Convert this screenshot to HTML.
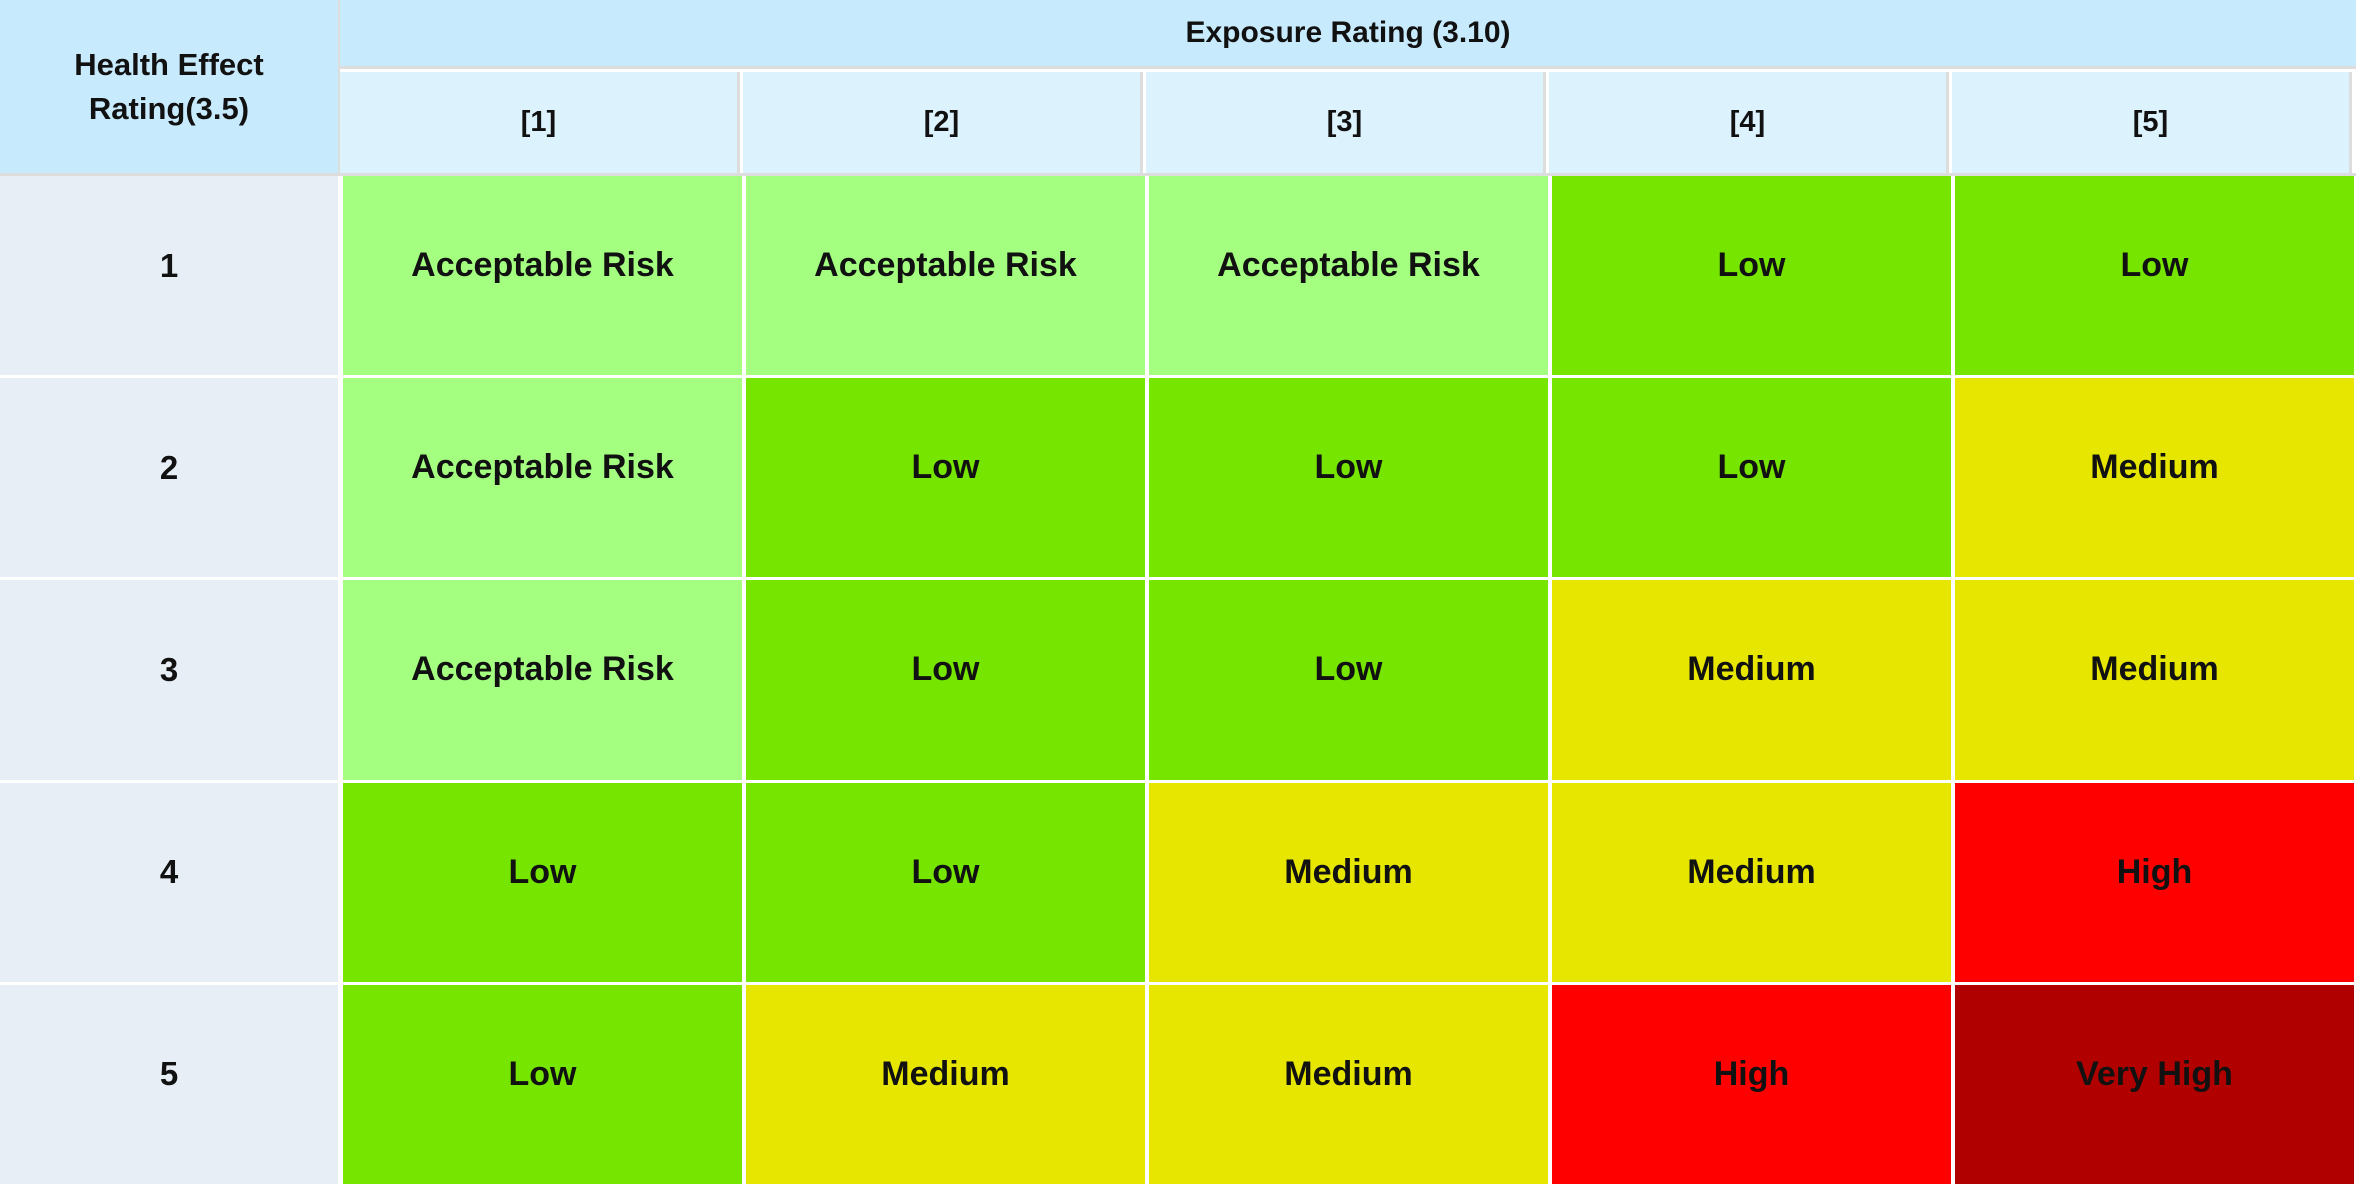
<!DOCTYPE html>
<html><head><meta charset="utf-8"><style>
body{margin:0;width:2356px;height:1188px;background:#fff;font-family:"Liberation Sans",sans-serif;font-weight:bold;color:#111;position:relative;overflow:hidden}
.c{position:absolute;display:flex;align-items:center;justify-content:center;text-align:center;box-sizing:border-box}
</style></head><body>
<div class="c" style="left:0;top:0;width:340px;height:174px;background:#c8eafd;font-size:31px;line-height:44px;border-right:2px solid #ddd">Health Effect<br>Rating(3.5)</div>
<div class="c" style="left:340px;top:0;width:2016px;height:69px;background:#c8eafd;font-size:30px;border-bottom:3px solid #ddd">Exposure Rating (3.10)</div>
<div id="root"></div>
<script>
const colLabels=["[1]","[2]","[3]","[4]","[5]"];
const rowLabels=["1","2","3","4","5"];
const cells=[
["Acceptable Risk","Acceptable Risk","Acceptable Risk","Low","Low"],
["Acceptable Risk","Low","Low","Low","Medium"],
["Acceptable Risk","Low","Low","Medium","Medium"],
["Low","Low","Medium","Medium","High"],
["Low","Medium","Medium","High","Very High"]];
const colors={"Acceptable Risk":"#a4ff80","Low":"#76e600","Medium":"#e6e600","High":"#ff0000","Very High":"#b00000"};
const root=document.getElementById('root');
const x0=343,cw=403,y0=176,rh=202.2;
function mk(l,t,w,h,bg,txt,fs){const d=document.createElement('div');d.className='c';d.style.cssText=`left:${l}px;top:${t}px;width:${w}px;height:${h}px;background:${bg};font-size:${fs}px`;d.textContent=txt;root.appendChild(d);return d;}
colLabels.forEach((c,i)=>{const d=mk(340+i*cw,72,cw-3,101,'#dcf2fd',c,29);
d.style.borderRight='3px solid #ddd';

});
const line=mk(0,173,2356,3,'#ddd','',1);


rowLabels.forEach((r,j)=>{const d=mk(0,y0+j*rh,338,rh-3,'#e8eef5',r,33);
d.style.paddingBottom='20px';

});
cells.forEach((row,j)=>row.forEach((v,i)=>{const d=mk(x0+i*cw,y0+j*rh,cw-4,rh-3,colors[v],v,34);
d.style.paddingBottom='20px';

}));
</script>
</body></html>
